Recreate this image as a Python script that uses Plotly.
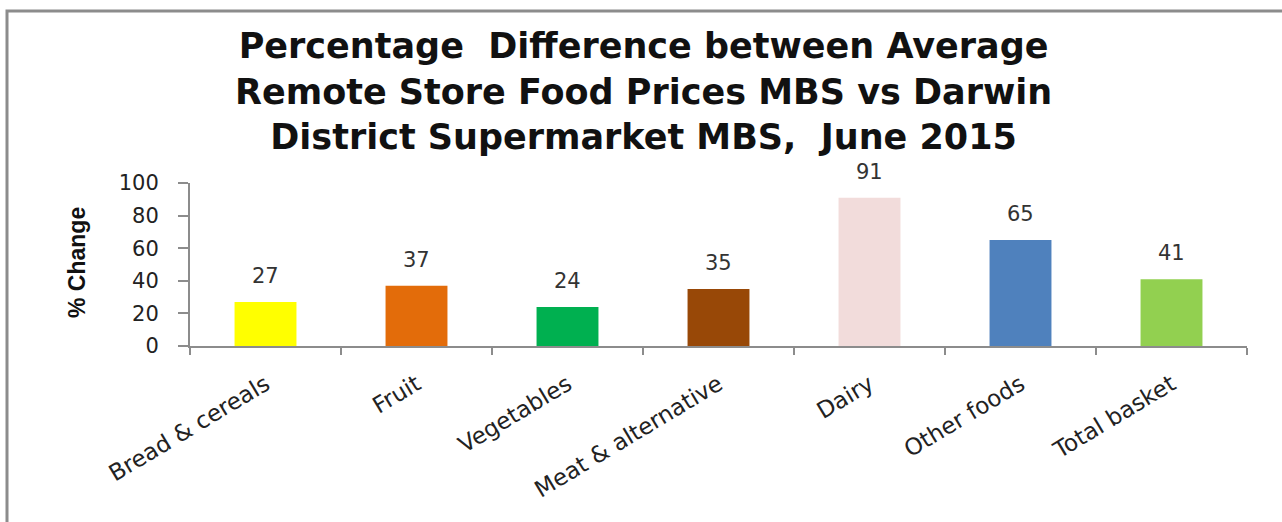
import plotly.graph_objects as go

categories = ["Bread & cereals", "Fruit", "Vegetables", "Meat & alternative",
              "Dairy", "Other foods", "Total basket"]
values = [27, 37, 24, 35, 91, 65, 41]
colors = ["#FFFF00", "#E36C0A", "#00B050", "#984807", "#F2DCDB", "#4F81BD", "#92D050"]
y_ticks = [0, 20, 40, 60, 80, 100]

W, H = 1282, 522
L, R, T, B = 190, 35, 183, 176
pw = W - L - R
ph = H - T - B

def px_x(p):
    return (p - L) / pw

def px_y(p):
    return (H - B - p) / ph

fig = go.Figure()
fig.add_trace(go.Bar(
    x=categories, y=values, marker=dict(color=colors, line=dict(width=0)),
    width=0.41, hoverinfo="skip"
))

for c, v in zip(categories, values):
    fig.add_annotation(x=c, y=v, text=str(v), showarrow=False, yanchor="bottom",
                       yshift=12, font=dict(family="DejaVu Sans", size=21, color="#333333"))

fig.add_annotation(xref="paper", yref="paper", x=px_x(77), y=px_y(263),
                   xanchor="center", yanchor="middle",
                   text="<b>% Change</b>", textangle=-90, showarrow=False,
                   font=dict(family="Liberation Sans", size=23, color="#111111"))

nb = "\u00a0"
fig.add_annotation(xref="paper", yref="paper", x=px_x(643), y=px_y(92),
                   xanchor="center", yanchor="middle", showarrow=False, align="center",
                   text=f"<b>Percentage{nb}{nb}Difference between Average<br>Remote Store Food Prices MBS vs Darwin<br>District Supermarket MBS,{nb}{nb}June 2015</b>",
                   font=dict(family="DejaVu Sans", size=35, color="#111111"))

fig.add_shape(type="rect", xref="paper", yref="paper",
              x0=px_x(7), x1=px_x(1300),
              y0=px_y(540), y1=px_y(11),
              line=dict(color="#8c8c8c", width=3), fillcolor="rgba(0,0,0,0)", layer="below")

fig.update_layout(
    width=W, height=H,
    margin=dict(l=L, r=R, t=T, b=B, pad=0),
    paper_bgcolor="white", plot_bgcolor="white",
    showlegend=False,
    xaxis=dict(
        showline=True, linecolor="#8c8c8c", linewidth=2,
        ticks="outside", tickson="boundaries", ticklen=7, tickcolor="#8c8c8c", tickwidth=2,
        tickangle=-31, tickfont=dict(family="DejaVu Sans", size=23, color="#222222"),
        ticklabelstandoff=14, showgrid=False, zeroline=False
    ),
    yaxis=dict(
        range=[0, 100], tickvals=y_ticks, showline=True, linecolor="#8c8c8c", linewidth=2,
        ticks="outside", ticklen=10, tickcolor="#8c8c8c", tickwidth=2,
        tickfont=dict(family="DejaVu Sans", size=21, color="#222222"),
        ticklabelstandoff=15, showgrid=False, zeroline=False
    ),
)

fig.write_html("out.html", config={"displayModeBar": False},
               post_script="document.body.style.margin='0';")
